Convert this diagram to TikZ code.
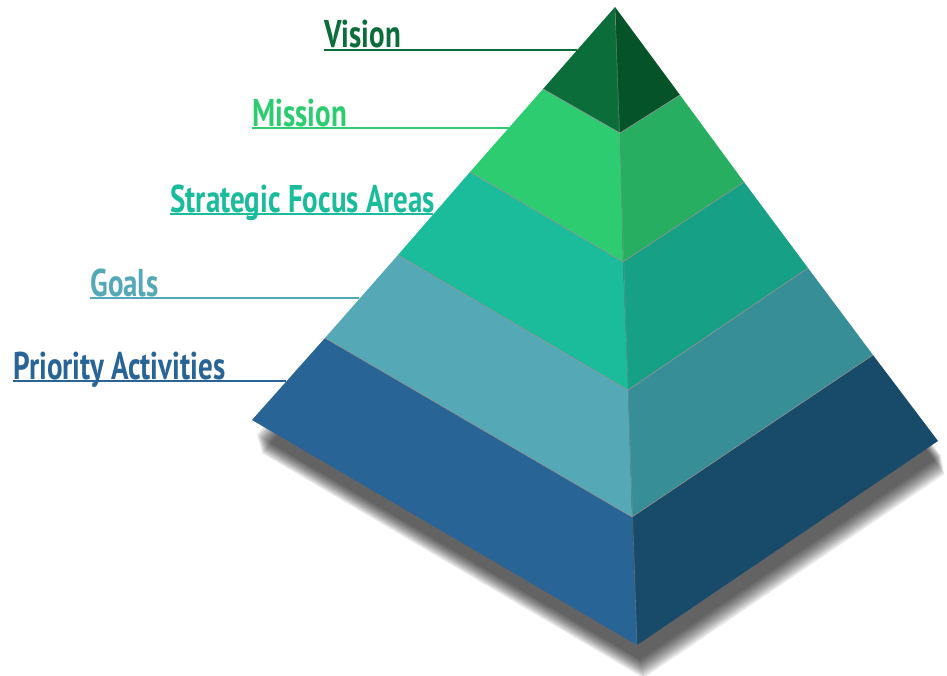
\documentclass[tikz,border=0pt]{standalone}
\usepackage{fontspec}
\newfontfamily\labelfont[FakeStretch=0.75]{PT Sans}
\definecolor{visionL}{HTML}{0B6E3A}
\definecolor{visionR}{HTML}{055328}
\definecolor{missionL}{HTML}{2ECC71}
\definecolor{missionR}{HTML}{27AE60}
\definecolor{focusL}{HTML}{1ABC9C}
\definecolor{focusR}{HTML}{16A085}
\definecolor{goalsL}{HTML}{55A9B7}
\definecolor{goalsR}{HTML}{388E97}
\definecolor{activL}{HTML}{286496}
\definecolor{activR}{HTML}{184B69}
\begin{document}
\begin{tikzpicture}[x=0.02cm,y=-0.02cm,
    layerlabel/.style={anchor=base west,inner sep=0pt,
      font=\labelfont\bfseries\fontsize{22}{25}\selectfont},
    leader/.style={line width=0.85pt},
    seam/.style={draw=gray!85,line width=0.35pt}]
  \useasboundingbox (0,0) rectangle (947,676);
  % corners of the layers: left edge, front ridge, right edge
  \coordinate (l0) at (615,7);
  \coordinate (f0) at (615,7);
  \coordinate (r0) at (615,7);
  \coordinate (l1) at (543,89);
  \coordinate (l2) at (470,172);
  \coordinate (l3) at (398,255);
  \coordinate (l4) at (325,338);
  \coordinate (l5) at (252,420);
  \coordinate (f1) at (620,133);
  \coordinate (f2) at (623,262);
  \coordinate (f3) at (628,390);
  \coordinate (f4) at (632,517);
  \coordinate (f5) at (637,645);
  \coordinate (r1) at (680,95);
  \coordinate (r2) at (744,182);
  \coordinate (r3) at (808,268);
  \coordinate (r4) at (873,355);
  \coordinate (r5) at (938,441);
  % soft shadow
  \foreach \s in {15,17,...,33}
    \fill[black,fill opacity=0.09]
      ([shift={(0.2*\s,\s)}]l0) -- ([shift={(0.3*\s,\s)}]l5)
      -- ([shift={(0.2*\s,\s)}]f5) -- ([shift={(0.2*\s,\s)}]r5) -- cycle;
  % layers
  \foreach \i/\j/\name in {0/1/vision,1/2/mission,2/3/focus,3/4/goals,4/5/activ} {
    \fill[\name L] (l\i) -- (l\j) -- (f\j) -- (f\i) -- cycle;
    \fill[\name R] (f\i) -- (f\j) -- (r\j) -- (r\i) -- cycle;
  }
  \begin{scope}[seam]
    \foreach \j in {1,...,4}
      \draw (l\j) -- (f\j) -- (r\j);
    \draw[draw opacity=0.5] (f0) -- (f5);
  \end{scope}
  % labels and leaders
  \node[layerlabel,text=visionL] (vision) at (324,48) {Vision};
  \node[layerlabel,text=missionL] (mission) at (252,126) {Mission};
  \node[layerlabel,text=focusL] (focus) at (170,212) {Strategic Focus Areas};
  \node[layerlabel,text=goalsL] (goals) at (90,296) {Goals};
  \node[layerlabel,text=activL] (activ) at (13,379) {Priority Activities};
  \coordinate (vision-end) at (577,50);
  \coordinate (mission-end) at (509,128);
  \coordinate (focus-end) at (433,214);
  \coordinate (goals-end) at (359,298);
  \coordinate (activ-end) at (286,381);
  \foreach \name in {vision,mission,focus,goals,activ}
    \draw[leader,\name L] (\name-end -| \name.west) -- (\name-end);
\end{tikzpicture}
\end{document}
